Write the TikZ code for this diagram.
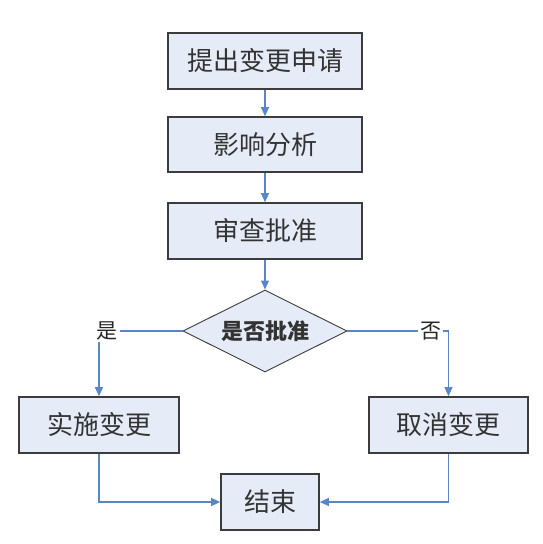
\documentclass[tikz,border=0pt]{standalone}
\usepackage{fontspec}
\setmainfont{Noto Sans CJK SC}
\newfontfamily\cjk{Noto Sans CJK SC}
\usetikzlibrary{arrows.meta,shapes.geometric,shadows}
\definecolor{boxfill}{HTML}{E6ECF7}
\definecolor{boxline}{HTML}{3C3C3C}
\definecolor{conncol}{HTML}{5A86C8}
\tikzset{
  stepbox/.style={draw=boxline, line width=1.6pt, fill=boxfill, minimum height=56pt, inner sep=0pt,
    font=\cjk\fontsize{26}{26}\selectfont, text=black!80},
  decision/.style={diamond, aspect=2, draw=boxline, line width=0.9pt, fill=boxfill, inner sep=0pt,
    minimum width=164pt, minimum height=82pt, font=\cjk\bfseries\fontsize{22}{22}\selectfont, text=black!80},
  conn/.style={draw=conncol, line width=1.1pt, -{Triangle[length=9pt,width=8pt]}},
  lbl/.style={fill=white, inner sep=2pt, font=\cjk\fontsize{21}{21}\selectfont, text=black!85}
}
\begin{document}
\begin{tikzpicture}[x=1pt,y=1pt]
\useasboundingbox (0,0) rectangle (543,544);
\node[stepbox, minimum width=194pt] (apply) at (265,483) {提出变更申请};
\node[stepbox, minimum width=194pt, minimum height=55pt] (impact) at (265,399.5) {影响分析};
\node[stepbox, minimum width=194pt] (review) at (265,313) {审查批准};
\node[decision] (dec) at (265,213) {是否批准};
\node[stepbox, minimum width=160pt] (impl) at (99,119) {实施变更};
\node[stepbox, minimum width=159pt] (cancel) at (448.5,119) {取消变更};
\node[stepbox, minimum width=98pt] (end) at (270,42) {结束};
\draw[conn] (apply.south) -- (impact.north);
\draw[conn] (impact.south) -- (review.north);
\draw[conn] (review.south) -- (dec.north);
\draw[conn] (dec.west) -| (impl.north) node[pos=0.5, lbl, xshift=8pt] (yes) {是};
\draw[conn] (dec.east) -| (cancel.north) node[pos=0.5, lbl, xshift=-18pt] (no) {否};
\draw[conn] (impl.south) |- (end.west);
\draw[conn] (cancel.south) |- (end.east);
\end{tikzpicture}
\end{document}
